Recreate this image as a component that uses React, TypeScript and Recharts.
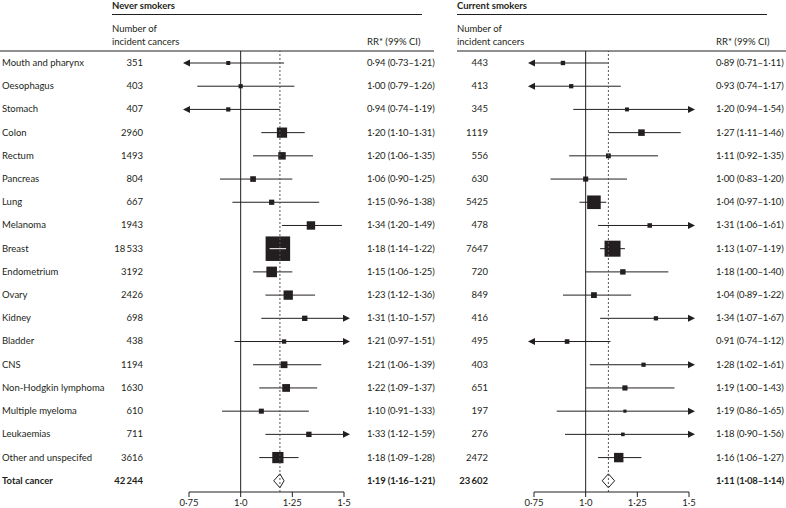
import React from 'react';
import { ComposedChart, Bar, XAxis, YAxis, ReferenceLine } from 'recharts';

const cancers = [
  'Mouth and pharynx', 'Oesophagus', 'Stomach', 'Colon', 'Rectum', 'Pancreas', 'Lung', 'Melanoma',
  'Breast', 'Endometrium', 'Ovary', 'Kidney', 'Bladder', 'CNS', 'Non-Hodgkin lymphoma',
  'Multiple myeloma', 'Leukaemias', 'Other and unspecifed', 'Total cancer',
];

const neverN = [351, 403, 407, 2960, 1493, 804, 667, 1943, 18533, 3192, 2426, 698, 438, 1194, 1630, 610, 711, 3616, 42244];
const neverRR = [0.94, 1.0, 0.94, 1.2, 1.2, 1.06, 1.15, 1.34, 1.18, 1.15, 1.23, 1.31, 1.21, 1.21, 1.22, 1.1, 1.33, 1.18, 1.19];
const neverLo = [0.73, 0.79, 0.74, 1.1, 1.06, 0.9, 0.96, 1.2, 1.14, 1.06, 1.12, 1.1, 0.97, 1.06, 1.09, 0.91, 1.12, 1.09, 1.16];
const neverHi = [1.21, 1.26, 1.19, 1.31, 1.35, 1.25, 1.38, 1.49, 1.22, 1.25, 1.36, 1.57, 1.51, 1.39, 1.37, 1.33, 1.59, 1.28, 1.21];

const currentN = [443, 413, 345, 1119, 556, 630, 5425, 478, 7647, 720, 849, 416, 495, 403, 651, 197, 276, 2472, 23602];
const currentRR = [0.89, 0.93, 1.2, 1.27, 1.11, 1.0, 1.04, 1.31, 1.13, 1.18, 1.04, 1.34, 0.91, 1.28, 1.19, 1.19, 1.18, 1.16, 1.11];
const currentLo = [0.71, 0.74, 0.94, 1.11, 0.92, 0.83, 0.97, 1.06, 1.07, 1.0, 0.89, 1.07, 0.74, 1.02, 1.0, 0.86, 0.9, 1.06, 1.08];
const currentHi = [1.11, 1.17, 1.54, 1.46, 1.35, 1.2, 1.1, 1.61, 1.19, 1.4, 1.22, 1.67, 1.12, 1.61, 1.43, 1.65, 1.56, 1.27, 1.14];

const xTicks = [0.75, 1.0, 1.25, 1.5];
const xTickLabels = ['0·75', '1·0', '1·25', '1·5'];

const AXIS_MIN = 0.75;
const AXIS_MAX = 1.5;
const FONT = 'Lato, "Open Sans", sans-serif';
const INK = '#231f20';
const FS = 9.5;

const fmtDec = (v: number) => v.toFixed(2).replace('.', '\u00b7');
const fmtN = (n: number) => {
  const s = String(n);
  return s.length > 4 ? s.slice(0, s.length - 3) + '\u2009' + s.slice(-3) : s;
};

type Row = { name: string; n: number; rr: number; lo: number; hi: number; ci: [number, number]; total: boolean };

function buildRows(ns: number[], rrs: number[], los: number[], his: number[]): Row[] {
  return cancers.map((name, i) => ({
    name,
    n: ns[i],
    rr: rrs[i],
    lo: los[i],
    hi: his[i],
    ci: [Math.max(los[i], AXIS_MIN), Math.min(his[i], AXIS_MAX)] as [number, number],
    total: name === 'Total cancer',
  }));
}

const neverRows = buildRows(neverN, neverRR, neverLo, neverHi);
const currentRows = buildRows(currentN, currentRR, currentLo, currentHi);

const ForestShape = (props: any) => {
  const p: Row = props.payload ?? props;
  let x = Number(props.x);
  let width = Number(props.width);
  if (width < 0) {
    x += width;
    width = -width;
  }
  const cy = Number(props.y) + Number(props.height) / 2;
  const [c0, c1] = p.ci;
  const px = x + ((p.rr - c0) / (c1 - c0)) * width;
  if (p.total) {
    const h = 7;
    return (
      <path
        d={`M${x},${cy}L${px},${cy - h}L${x + width},${cy}L${px},${cy + h}Z`}
        fill="none"
        stroke={INK}
        strokeWidth={1}
      />
    );
  }
  const side = 0.7 + 0.175 * Math.sqrt(p.n);
  const half = side / 2;
  const inside = x >= px - half && x + width <= px + half;
  const x2 = x + width;
  return (
    <g>
      <line x1={x} x2={x2} y1={cy} y2={cy} stroke={INK} strokeWidth={1} />
      {p.lo < AXIS_MIN && <path d={`M${x + 1},${cy - 3.5}L${x - 6},${cy}L${x + 1},${cy + 3.5}Z`} fill={INK} />}
      {p.hi > AXIS_MAX && <path d={`M${x2 - 1},${cy - 3.5}L${x2 + 6},${cy}L${x2 - 1},${cy + 3.5}Z`} fill={INK} />}
      <rect x={px - half} y={cy - half} width={side} height={side} fill={INK} />
      {inside && <line x1={x} x2={x2} y1={cy} y2={cy} stroke="#fff" strokeWidth={1} />}
    </g>
  );
};

const makeTick = (rows: Row[], showName: boolean, numRight: number, rrLeft: number) => (props: any) => {
  const r = rows.find((d) => d.name === props.payload.value);
  if (!r) return <g />;
  const y = props.y;
  const weight = r.total ? 700 : 400;
  return (
    <g fontFamily={FONT} fontSize={FS} fontWeight={weight}>
      {showName && (
        <text x={2} y={y} dy="0.35em" fill={INK}>
          {r.name}
        </text>
      )}
      <text x={numRight} y={y} dy="0.35em" textAnchor="end" fill={INK}>
        {fmtN(r.n)}
      </text>
      <text x={rrLeft} y={y} dy="0.35em" fill={INK} letterSpacing={-0.15}>
        {`${fmtDec(r.rr)} (${fmtDec(r.lo)}–${fmtDec(r.hi)})`}
      </text>
    </g>
  );
};

// left panel svg: x 0..457 ; right panel svg: x 457..786
const LeftTick = makeTick(neverRows, true, 143, 367);
const RightTick = makeTick(currentRows, false, 488 - 457, 716 - 457);

const Panel = ({ rows, width, yWidth, right, Tick }: any) => {
  const totalRR = rows[rows.length - 1].rr;
  return (
    <ComposedChart
      layout="vertical"
      width={width}
      height={508}
      data={rows}
      margin={{ top: 51, right, bottom: 0, left: 0 }}
      style={{ overflow: 'visible' }}
    >
      <XAxis
        type="number"
        domain={[AXIS_MIN, AXIS_MAX]}
        ticks={xTicks}
        interval={0}
        height={16}
        tickSize={5}
        stroke={INK}
        tick={{ fontSize: 9.5, fill: INK, fontFamily: FONT }}
        tickFormatter={(v: number) => xTickLabels[xTicks.indexOf(v)]}
      />
      <YAxis
        type="category"
        dataKey="name"
        width={yWidth}
        axisLine={false}
        tickLine={false}
        interval={0}
        tick={<Tick />}
      />
      <ReferenceLine x={1} stroke={INK} strokeWidth={1} />
      <ReferenceLine x={totalRR} stroke="#555" strokeWidth={1} strokeDasharray="2 2" />
      <Bar dataKey="ci" barSize={2} isAnimationActive={false} shape={<ForestShape />} />
    </ComposedChart>
  );
};

const Headers = () => (
  <svg width={786} height={508} style={{ position: 'absolute', left: 0, top: 0, pointerEvents: 'none' }}>
    <g fontFamily={FONT} fontSize={FS} fill={INK}>
      <text x={112} y={9} fontWeight={700}>Never smokers</text>
      <line x1={112} x2={422} y1={14.5} y2={14.5} stroke={INK} />
      <text x={112} y={32}>Number of</text>
      <text x={112} y={45}>incident cancers</text>
      <text x={367} y={45}>RR* (99% CI)</text>
      <line x1={0} x2={434} y1={51} y2={51} stroke={INK} />

      <text x={457} y={9} fontWeight={700}>Current smokers</text>
      <line x1={457} x2={767} y1={14.5} y2={14.5} stroke={INK} />
      <text x={457} y={32}>Number of</text>
      <text x={457} y={45}>incident cancers</text>
      <text x={716} y={45}>RR* (99% CI)</text>
      <line x1={457} x2={786} y1={51} y2={51} stroke={INK} />
    </g>
  </svg>
);

export default function App() {
  return (
    <div style={{ position: 'absolute', left: 0, top: 0, width: 786, height: 508, background: '#fff', overflow: 'hidden' }}>
      <div style={{ position: 'absolute', left: 0, top: 0 }}>
        <Panel rows={neverRows} width={457} yWidth={189} right={113} Tick={LeftTick} />
      </div>
      <div style={{ position: 'absolute', left: 457, top: 0 }}>
        <Panel rows={currentRows} width={329} yWidth={77} right={97} Tick={RightTick} />
      </div>
      <Headers />
    </div>
  );
}
